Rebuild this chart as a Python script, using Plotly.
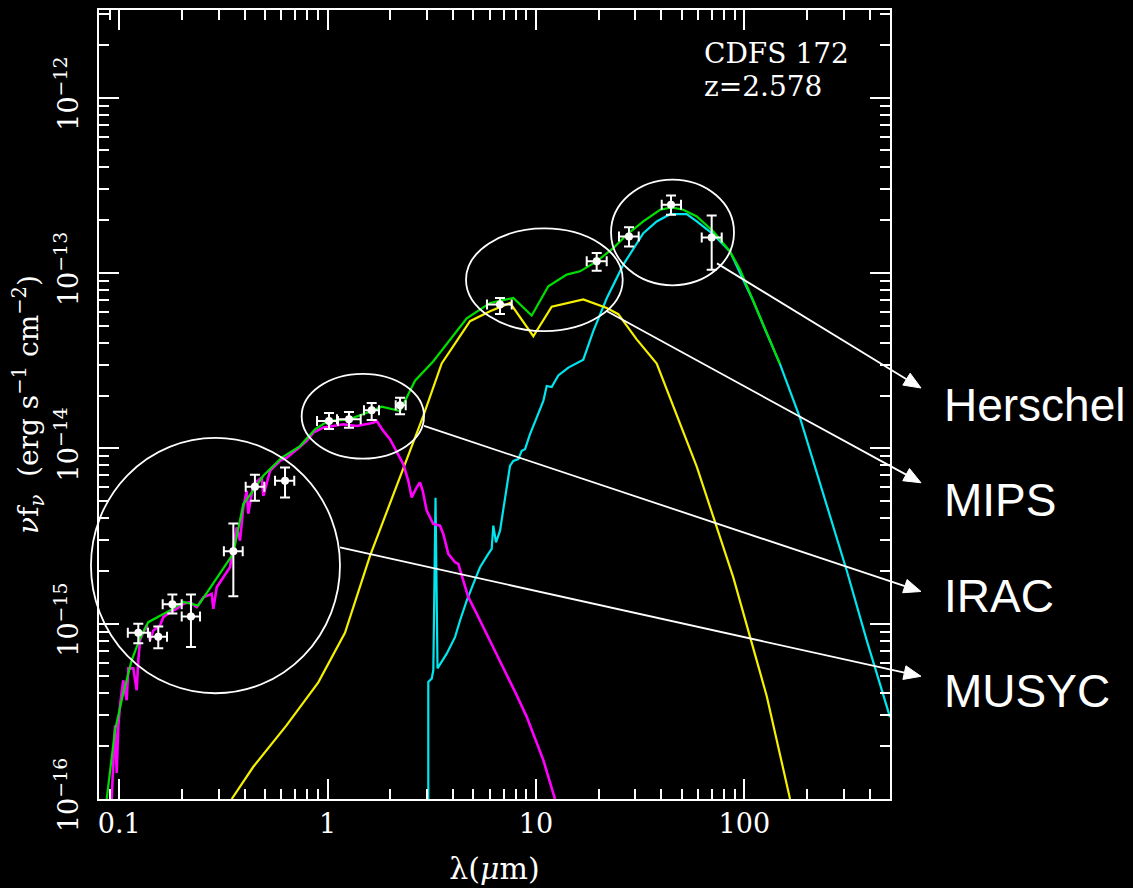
import math
import plotly.graph_objects as go

# ---------------------------------------------------------------------------
# Axis limits: rest-frame wavelength (micron) and nu*f_nu (erg s^-1 cm^-2)
# ---------------------------------------------------------------------------
LAM_MIN, LAM_MAX = 0.08, 500.0
LOGF_MIN, LOGF_MAX = -16.0, -11.5
UNIT = 1e-15  # flux arrays below are given in units of 1e-15 erg s^-1 cm^-2

# ---------------------------------------------------------------------------
# Photometry (MUSYC, IRAC, MIPS, Herschel)
# ---------------------------------------------------------------------------
phot_lam = [0.1235, 0.154, 0.180, 0.221, 0.353, 0.448, 0.625,
            1.016, 1.267, 1.628, 2.227, 6.72, 19.56, 27.96, 44.48, 69.7]
phot_lam_lo = [0.110, 0.1405, 0.1617, 0.1995, 0.318, 0.4046, 0.5595,
               0.890, 1.110, 1.495, 2.123, 5.82, 17.52, 25.03, 40.13, 62.44]
phot_lam_hi = [0.1375, 0.1696, 0.1995, 0.2443, 0.3915, 0.4971, 0.692,
               1.122, 1.442, 1.765, 2.371, 7.65, 21.85, 31.12, 49.67, 77.88]
phot_flux = [0.888, 0.842, 1.291, 1.099, 2.586, 6.035, 6.53,
             14.33, 14.65, 16.48, 17.6, 66.1, 116.5, 161.6, 244.8, 159.6]
phot_flux_lo = [0.772, 0.723, 1.143, 0.735, 1.434, 5.03, 5.25,
                12.9, 13.12, 14.52, 15.64, 58.4, 103.1, 141.8, 214.8, 104.5]
phot_flux_hi = [1.0, 0.964, 1.466, 1.466, 3.73, 7.06, 7.77,
                15.9, 16.12, 18.14, 19.44, 72.1, 129.9, 182.6, 276.6, 212.9]

# ---------------------------------------------------------------------------
# Model components
# ---------------------------------------------------------------------------
# total model (green)
total_lam = [0.0871, 0.0955, 0.1046, 0.1148, 0.1258, 0.1379, 0.1753, 0.2031,
             0.2397, 0.3528, 0.394, 0.4164, 0.4915, 0.6024, 0.7375, 0.870,
             1.008, 1.257, 1.628, 1.819, 2.227, 2.628, 3.217, 4.653, 6.019,
             7.785, 9.54, 11.46, 14.05, 16.27, 19.56, 23.5, 27.26, 32.75,
             39.4, 44.8, 50.9, 59.1, 71.0, 85.3, 95.3, 110.4, 128.5, 148.3]
total_flux = [0.100, 0.247, 0.401, 0.618, 0.824, 1.02, 1.19, 1.33, 1.27, 2.51,
              4.81, 5.25, 6.97, 8.86, 10.3, 12.85, 14.33, 14.58, 16.33, 17.28,
              16.33, 24.3, 31.4, 55.2, 67.5, 72.1, 57.2, 84.0, 97.9, 102.2,
              116.5, 138.7, 165.3, 196.8, 229.4, 236.4, 229.4, 210.1, 172.6,
              132.8, 104.9, 69.0, 44.8, 30.2]

# stellar spectrum (magenta)
stellar_lam = [0.0920, 0.0939, 0.0955, 0.0973, 0.0990, 0.1009, 0.1046, 0.1086,
               0.1106, 0.1169, 0.1213, 0.1235, 0.1258, 0.1305, 0.1355, 0.1405,
               0.1458, 0.157, 0.1628, 0.1753, 0.1888, 0.2031, 0.2187, 0.2355,
               0.2533, 0.2779, 0.2829, 0.2938, 0.3160, 0.3402, 0.3528, 0.3664,
               0.3800, 0.394, 0.4091, 0.4164, 0.4401, 0.4830, 0.4915, 0.5294,
               0.5910, 0.6365, 0.7238, 0.7942, 0.8542, 0.9539, 1.065, 1.190,
               1.380, 1.541, 1.658, 1.721, 1.851, 1.993, 2.147, 2.309, 2.440,
               2.533, 2.677, 2.777, 2.861, 2.990, 3.217, 3.463, 3.592, 3.796,
               4.088, 4.240, 4.481, 4.735, 5.197, 5.803, 6.481, 7.237, 8.084,
               9.029, 9.895, 10.85, 12.34]
stellar_flux = [0.100, 0.1667, 0.2636, 0.1406, 0.260, 0.3424, 0.4753, 0.3659,
                0.556, 0.556, 0.417, 0.618, 0.803, 0.895, 0.977, 0.803, 0.915,
                0.977, 1.089, 1.163, 1.216, 1.298, 1.326, 1.242, 1.416, 1.480,
                1.216, 1.614, 1.839, 2.097, 2.725, 3.541, 2.975, 4.60, 5.73,
                4.238, 6.25, 6.82, 5.36, 7.44, 8.48, 8.86, 10.02, 11.02, 12.29,
                13.13, 13.42, 13.72, 13.42, 13.72, 14.01, 14.33, 12.57, 11.27,
                9.46, 8.12, 6.53, 5.25, 5.98, 6.39, 5.73, 4.41, 3.703, 3.621,
                3.248, 2.50, 2.239, 2.193, 1.762, 1.416, 1.139, 0.876, 0.674,
                0.519, 0.3905, 0.294, 0.2215, 0.1667, 0.100]

# hot-dust torus (yellow)
torus_lam = [0.3467, 0.4401, 0.6365, 0.9027, 1.212, 1.598, 2.309, 2.880,
             3.529, 4.826, 6.019, 7.507, 9.711, 11.90, 16.87, 21.86, 24.84,
             30.44, 37.97, 59.1, 88.5, 128.1, 165.7]
torus_flux = [0.100, 0.1527, 0.2636, 0.463, 0.886, 2.434, 7.69, 15.30, 30.5,
              53.1, 60.5, 67.5, 43.6, 64.2, 70.6, 63.2, 58.2, 41.8, 30.4,
              7.87, 1.836, 0.386, 0.100]

# starburst / cold dust (cyan)
sb_lam = [3.043, 3.043, 3.160, 3.217, 3.296, 3.369, 3.730, 4.088, 4.321,
          4.653, 5.005, 5.390, 5.905, 6.132, 6.242, 6.431, 6.722, 6.971,
          7.237, 7.507, 7.785, 8.228, 8.543, 8.862, 9.364, 10.08, 10.85,
          11.26, 11.90, 12.80, 14.30, 16.87, 18.84, 21.86, 26.26, 32.75,
          37.97, 43.98, 52.9, 59.1, 71.0, 85.3, 110.4, 128.5, 148.3, 185.0,
          239.3, 309.9, 386.6, 500.0]
sb_flux = [0.05, 0.465, 0.486, 0.542, 5.23, 0.556, 0.674, 0.838, 1.043, 1.355,
           1.687, 2.097, 2.50, 2.669, 3.621, 2.909, 3.391, 4.60, 5.98, 7.95,
           8.48, 8.68, 9.67, 9.89, 12.04, 14.96, 18.62, 22.66, 22.37, 26.04,
           28.88, 32.03, 46.6, 71.8, 111.6, 168.8, 196.8, 216.5, 216.5, 196.8,
           166.0, 132.8, 69.0, 44.8, 30.2, 14.90, 5.51, 2.009, 0.803, 0.293]

# ---------------------------------------------------------------------------
# Instrument groupings: ellipse bounds (lam0, lam1, flux0, flux1) and
# the point on each ellipse where its pointer line starts
# ---------------------------------------------------------------------------
group_names = ["Herschel", "MIPS", "IRAC", "MUSYC"]
group_boxes = [(22.92, 89.2, 85.1, 341.2),
               (4.617, 26.08, 46.6, 179.6),
               (0.751, 2.903, 8.74, 26.6),
               (0.0732, 1.147, 0.401, 11.47)]
group_line_start = [(73.9, 113.5), (21.93, 60.5), (2.903, 13.42), (1.147, 2.72)]
label_arrow_y = [0.5209, 0.4008, 0.263, 0.1555]   # paper y of arrow tips
label_text_y = [0.4994, 0.3793, 0.2579, 0.1365]   # paper y of label centres
ARROW_X = 1.0392
LABEL_X = 1.0657
HEAD_LEN, HEAD_HALF = 17.0, 7.0                   # arrowhead size, px

# ---------------------------------------------------------------------------
# Figure geometry
# ---------------------------------------------------------------------------
W, H = 1133, 888
ML, MR, MT, MB = 99, 243, 8, 89
PW = W - ML - MR
PH = H - MT - MB

LX0, LX1 = math.log10(LAM_MIN), math.log10(LAM_MAX)


def to_paper(lam, flux15):
    fx = (math.log10(lam) - LX0) / (LX1 - LX0)
    fy = (math.log10(flux15 * UNIT) - LOGF_MIN) / (LOGF_MAX - LOGF_MIN)
    return fx, fy


def paper_to_px(fx, fy):
    return ML + fx * PW, MT + (1 - fy) * PH


def px_to_paper(px, py):
    return (px - ML) / PW, 1 - (py - MT) / PH


def scaled(values):
    return [v * UNIT for v in values]


SERIF = "DejaVu Serif"
SANS = "Liberation Sans, Arial, sans-serif"
LW = 2.2

fig = go.Figure()

fig.add_trace(go.Scatter(x=sb_lam, y=scaled(sb_flux), mode="lines",
                         line=dict(color="#00e5ee", width=LW), hoverinfo="skip"))
fig.add_trace(go.Scatter(x=torus_lam, y=scaled(torus_flux), mode="lines",
                         line=dict(color="#f5f000", width=LW), hoverinfo="skip"))
fig.add_trace(go.Scatter(x=stellar_lam, y=scaled(stellar_flux), mode="lines",
                         line=dict(color="#ff00ff", width=2.6), hoverinfo="skip"))
fig.add_trace(go.Scatter(x=total_lam, y=scaled(total_flux), mode="lines",
                         line=dict(color="#00e000", width=LW), hoverinfo="skip"))

fig.add_trace(go.Scatter(
    x=phot_lam, y=scaled(phot_flux), mode="markers",
    marker=dict(color="white", size=8, line=dict(width=0)),
    error_x=dict(type="data", symmetric=False,
                 array=[h - v for h, v in zip(phot_lam_hi, phot_lam)],
                 arrayminus=[v - l for l, v in zip(phot_lam_lo, phot_lam)],
                 color="white", thickness=2, width=5),
    error_y=dict(type="data", symmetric=False,
                 array=[(h - v) * UNIT for h, v in zip(phot_flux_hi, phot_flux)],
                 arrayminus=[(v - l) * UNIT for l, v in zip(phot_flux_lo, phot_flux)],
                 color="white", thickness=2, width=5),
    hoverinfo="skip"))

shapes = []
annotations = []

# ellipses around each instrument group, pointer lines and arrowheads
for (l0, l1, f0, f1) in group_boxes:
    x0, y0 = to_paper(l0, f0)
    x1, y1 = to_paper(l1, f1)
    shapes.append(dict(type="circle", xref="paper", yref="paper",
                       x0=x0, x1=x1, y0=y0, y1=y1,
                       line=dict(color="white", width=1.8)))

for name, start, tip_y, text_y in zip(group_names, group_line_start,
                                      label_arrow_y, label_text_y):
    sx, sy = paper_to_px(*to_paper(*start))
    tx, ty = paper_to_px(ARROW_X, tip_y)
    dx, dy = tx - sx, ty - sy
    norm = math.hypot(dx, dy)
    ux, uy = dx / norm, dy / norm
    bx, by = tx - HEAD_LEN * ux, ty - HEAD_LEN * uy
    nx, ny = -uy, ux
    p_start = px_to_paper(sx, sy)
    p_base = px_to_paper(bx, by)
    shapes.append(dict(type="line", xref="paper", yref="paper",
                       x0=p_start[0], y0=p_start[1], x1=p_base[0], y1=p_base[1],
                       line=dict(color="white", width=1.8)))
    corners = [px_to_paper(tx, ty),
               px_to_paper(bx + HEAD_HALF * nx, by + HEAD_HALF * ny),
               px_to_paper(bx - HEAD_HALF * nx, by - HEAD_HALF * ny)]
    path = "M {:.5f},{:.5f} L {:.5f},{:.5f} L {:.5f},{:.5f} Z".format(
        *corners[0], *corners[1], *corners[2])
    shapes.append(dict(type="path", xref="paper", yref="paper", path=path,
                       fillcolor="white", line=dict(color="white", width=1)))
    annotations.append(dict(
        xref="paper", yref="paper", x=LABEL_X, y=text_y, text=name,
        showarrow=False, xanchor="left", yanchor="middle",
        font=dict(family=SANS, size=46, color="white")))

annotations.append(dict(xref="paper", yref="paper", x=0.762, y=0.9444,
                        text="CDFS 172", showarrow=False, xanchor="left",
                        yanchor="middle",
                        font=dict(family=SERIF, size=28, color="white")))
annotations.append(dict(xref="paper", yref="paper", x=0.762, y=0.9027,
                        text="z=2.578", showarrow=False, xanchor="left",
                        yanchor="middle",
                        font=dict(family=SERIF, size=28, color="white")))

x_major = [0.1, 1, 10, 100]
x_minor = [m * 10 ** e for e in range(-2, 3) for m in range(2, 10)
           if LAM_MIN <= m * 10 ** e <= LAM_MAX]
y_major = [10.0 ** e for e in range(-16, -11)]
y_minor = [m * 10.0 ** e for e in range(-16, -11) for m in range(2, 10)
           if m * 10.0 ** e <= 10 ** LOGF_MAX]

axis_common = dict(
    type="log", showline=True, linecolor="white", linewidth=2,
    mirror="ticks", ticks="inside", ticklen=20, tickwidth=1.6,
    tickcolor="white", showgrid=False, zeroline=False,
    tickfont=dict(family=SERIF, size=27, color="white"),
)

fig.update_layout(
    width=W, height=H,
    margin=dict(l=ML, r=MR, t=MT, b=MB, pad=0),
    paper_bgcolor="black", plot_bgcolor="black",
    showlegend=False,
    shapes=shapes,
    annotations=annotations,
    xaxis=dict(
        **axis_common,
        range=[LX0, LX1],
        tickmode="array", tickvals=x_major,
        ticktext=["0.1", "1", "10", "100"],
        minor=dict(tickmode="array", tickvals=x_minor, ticks="inside",
                   ticklen=10, tickwidth=1.6, tickcolor="white", showgrid=False),
        title=dict(text="λ(<i>μ</i>m)", font=dict(family=SERIF, size=30, color="white"),
                   standoff=20),
    ),
    yaxis=dict(
        **axis_common,
        range=[LOGF_MIN, LOGF_MAX],
        tickmode="array", tickvals=y_major,
        ticktext=["10<sup>−%d</sup>" % (-e) for e in range(-16, -11)],
        tickangle=-90,
        ticklabelstandoff=8,
        minor=dict(tickmode="array", tickvals=y_minor, ticks="inside",
                   ticklen=10, tickwidth=1.6, tickcolor="white", showgrid=False),
        title=dict(text="<i>ν</i>f<sub><i>ν</i></sub>  (erg s<sup>−1</sup> cm<sup>−2</sup>)",
                   font=dict(family=SERIF, size=28, color="white"), standoff=0),
    ),
)

fig.write_html("out.html")
